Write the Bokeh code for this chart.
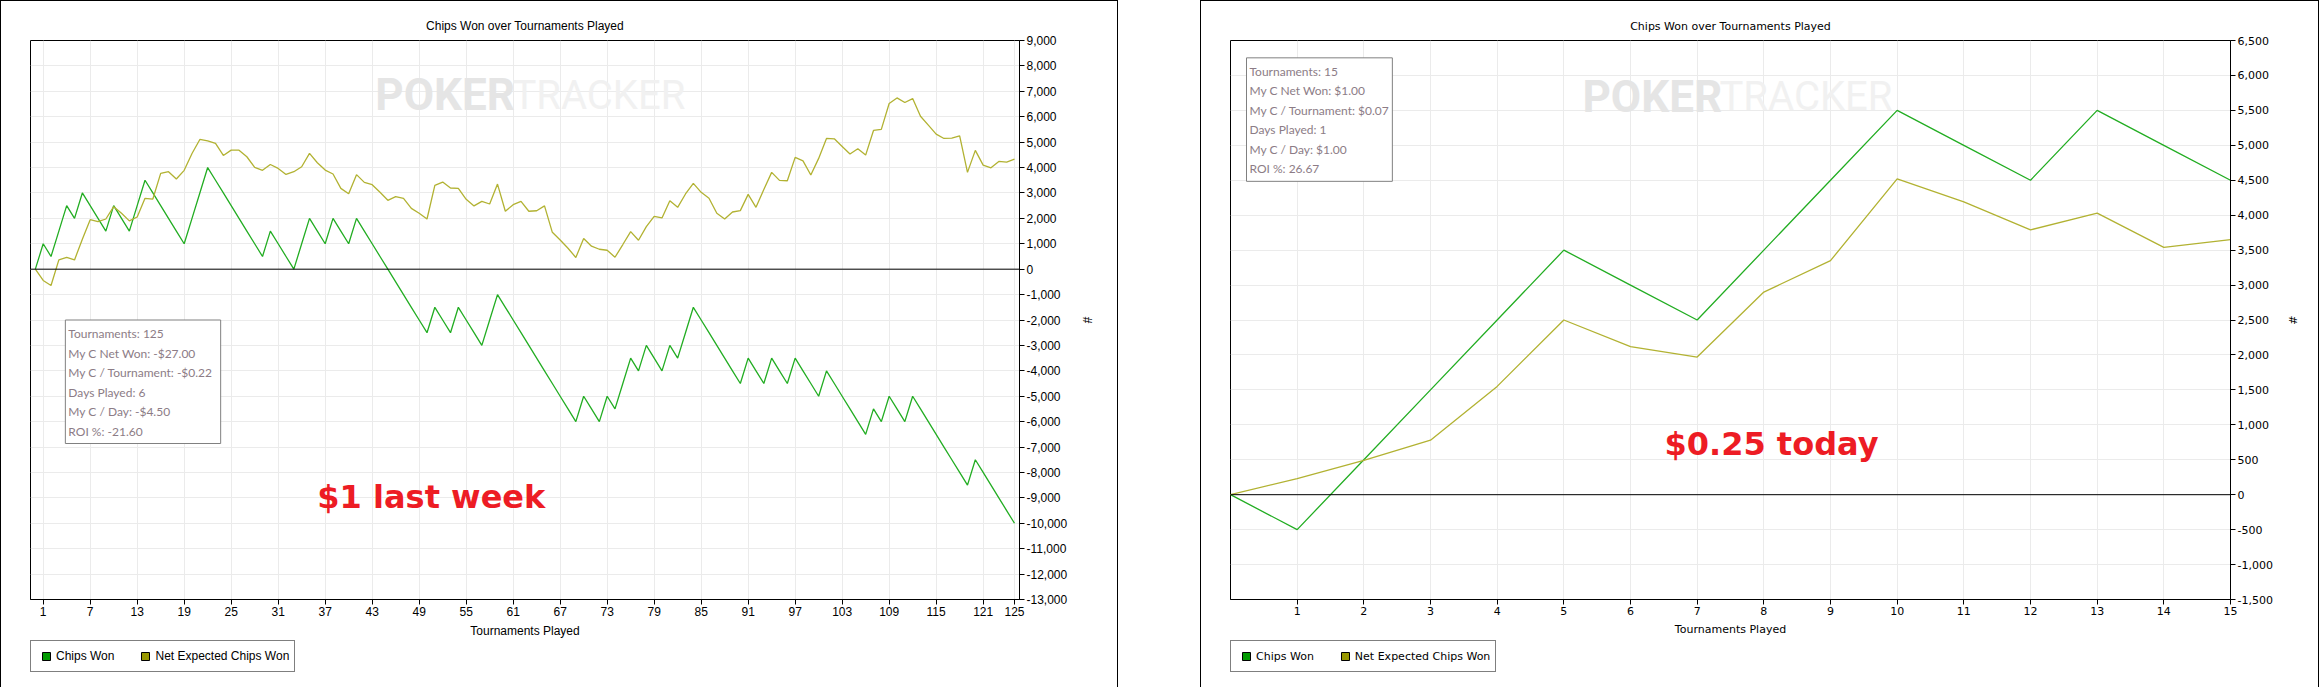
from bokeh.plotting import figure
from bokeh.models import Range1d, FixedTicker, NumeralTickFormatter, Span, Label, Legend, LegendItem
from bokeh.layouts import row, column
from bokeh.embed import file_html
from bokeh.resources import INLINE
from bokeh.core.properties import value
from bokeh.core.property.dataspec import DataSpec

# ---------------- data ----------------
TITLE = "Chips Won over Tournaments Played"
X_LABEL = "Tournaments Played"
Y_LABEL = "#"
SERIES_NAMES = ["Chips Won", "Net Expected Chips Won"]

left_games = list(range(0, 126))
left_chips_won = [
    0, 1000, 500, 1500, 2500, 2000, 3000, 2500, 2000, 1500,
    2500, 2000, 1500, 2500, 3500, 3000, 2500, 2000, 1500, 1000,
    2000, 3000, 4000, 3500, 3000, 2500, 2000, 1500, 1000, 500,
    1500, 1000, 500, 0, 1000, 2000, 1500, 1000, 2000, 1500,
    1000, 2000, 1500, 1000, 500, 0, -500, -1000, -1500, -2000,
    -2500, -1500, -2000, -2500, -1500, -2000, -2500, -3000, -2000, -1000,
    -1500, -2000, -2500, -3000, -3500, -4000, -4500, -5000, -5500, -6000,
    -5000, -5500, -6000, -5000, -5500, -4500, -3500, -4000, -3000, -3500,
    -4000, -3000, -3500, -2500, -1500, -2000, -2500, -3000, -3500, -4000,
    -4500, -3500, -4000, -4500, -3500, -4000, -4500, -3500, -4000, -4500,
    -5000, -4000, -4500, -5000, -5500, -6000, -6500, -5500, -6000, -5000,
    -5500, -6000, -5000, -5500, -6000, -6500, -7000, -7500, -8000, -8500,
    -7500, -8000, -8500, -9000, -9500, -10000,
]
left_net_expected = [
    0, -445, -640, 365, 460, 365, 1180, 1950, 1870, 1975,
    2460, 2200, 1900, 2055, 2790, 2760, 3770, 3835, 3550, 3890,
    4555, 5105, 5050, 4950, 4475, 4685, 4685, 4425, 4005, 3890,
    4120, 3965, 3730, 3835, 4030, 4555, 4190, 3900, 3745, 3180,
    2970, 3720, 3415, 3325, 3025, 2710, 2855, 2790, 2395, 2200,
    1975, 3300, 3430, 3195, 3180, 2750, 2490, 2670, 2565, 3350,
    2280, 2540, 2670, 2280, 2300, 2490, 1450, 1150, 825, 460,
    1205, 905, 785, 745, 470, 970, 1480, 1140, 1675, 2080,
    2015, 2695, 2435, 2960, 3375, 3025, 2790, 2200, 1975, 2250,
    2305, 2945, 2435, 3140, 3810, 3495, 3480, 4400, 4265, 3705,
    4360, 5145, 5130, 4830, 4530, 4740, 4490, 5460, 5500, 6520,
    6740, 6560, 6715, 6020, 5670, 5315, 5145, 5155, 5250, 3810,
    4675, 4095, 3990, 4240, 4215, 4330,
]
left_x_ticks = [1, 7, 13, 19, 25, 31, 37, 43, 49, 55, 61, 67, 73, 79, 85,
                91, 97, 103, 109, 115, 121, 125]
left_y_ticks = [-13000, -12000, -11000, -10000, -9000, -8000, -7000, -6000,
                -5000, -4000, -3000, -2000, -1000, 0, 1000, 2000, 3000, 4000,
                5000, 6000, 7000, 8000, 9000]
left_stats = ["Tournaments: 125", "My C Net Won: -$27.00", "My C / Tournament: -$0.22",
              "Days Played: 6", "My C / Day: -$4.50", "ROI %: -21.60"]
left_note = "$1 last week"

right_games = list(range(0, 16))
right_chips_won = [0, -500, 500, 1500, 2500, 3500, 3000, 2500, 3500, 4500,
                   5500, 5000, 4500, 5500, 5000, 4500]
right_net_expected = [0, 230, 490, 780, 1550, 2500, 2120, 1970, 2900, 3350,
                      4520, 4190, 3790, 4030, 3540, 3650]
right_x_ticks = [1, 2, 3, 4, 5, 6, 7, 8, 9, 10, 11, 12, 13, 14, 15]
right_y_ticks = [-1500, -1000, -500, 0, 500, 1000, 1500, 2000, 2500, 3000,
                 3500, 4000, 4500, 5000, 5500, 6000, 6500]
right_stats = ["Tournaments: 15", "My C Net Won: $1.00", "My C / Tournament: $0.07",
               "Days Played: 1", "My C / Day: $1.00", "ROI %: 26.67"]
right_note = "$0.25 today"

LINE_COLORS = ["#22ad22", "#b2b232"]
LEGEND_COLORS = ["#009900", "#999900"]
PANEL_BORDER = {"box-shadow": "inset 1px 1px 0 0 #000000, inset -1px 0 0 0 #000000"}


def font(cls, prop, fam):
    p = cls.lookup(prop).property
    return value(fam) if isinstance(p, DataSpec) else fam


def make_panel(games, won, expected, xticks, yticks, stats, note, *,
               frame_w, xr, yr, border_left, border_right, font_name, font_size,
               title_offset, stats_xy, stats_pad, note_xy, mark_xy):
    p = figure(frame_width=frame_w, frame_height=559,
               output_backend="svg", toolbar_location=None,
               x_range=Range1d(*xr), y_range=Range1d(*yr), y_axis_location="right",
               min_border_left=border_left, min_border_right=border_right,
               min_border_top=40, min_border_bottom=41,
               background_fill_color="white", border_fill_color=None)
    p.outline_line_color = "black"
    p.outline_line_width = 1

    p.title.text = TITLE
    p.title.align = "center"
    p.title.offset = title_offset
    p.title.standoff = 16
    p.title.text_font = font_name
    p.title.text_font_size = font_size
    p.title.text_font_style = "normal"
    p.title.text_color = "black"

    for ax in (p.xaxis[0], p.yaxis[0]):
        ax.axis_line_color = "black"
        ax.major_tick_line_color = "black"
        ax.major_tick_out = 5
        ax.major_tick_in = 0
        ax.minor_tick_line_color = None
        ax.major_label_text_font = font_name
        ax.major_label_text_font_size = font_size
        ax.major_label_text_color = "black"
        ax.major_label_standoff = 2
        ax.axis_label_text_font = font_name
        ax.axis_label_text_font_size = font_size
        ax.axis_label_text_font_style = "normal"
        ax.axis_label_text_color = "black"
    p.xaxis.ticker = FixedTicker(ticks=xticks)
    p.yaxis.ticker = FixedTicker(ticks=yticks)
    p.yaxis.formatter = NumeralTickFormatter(format="0,0")
    p.xaxis.axis_label = X_LABEL
    p.xaxis.axis_label_standoff = 5
    p.yaxis.axis_label = Y_LABEL
    p.yaxis.axis_label_standoff = 10

    p.xgrid.grid_line_color = "#ebebeb"
    p.ygrid.grid_line_color = "#ebebeb"

    # watermark
    p.add_layout(Label(x=mark_xy[0], y=mark_xy[2], text="POKER", text_align="left",
                       text_baseline="alphabetic", level="underlay",
                       text_font=font(Label, "text_font", "Roboto"), text_font_style="bold",
                       text_font_size="44px", text_color="#e5e5e5"))
    p.add_layout(Label(x=mark_xy[1], y=mark_xy[2], text="TRACKER", text_align="left",
                       text_baseline="alphabetic", level="underlay",
                       text_font=font(Label, "text_font", "Roboto"),
                       text_font_size="40px", text_color="#f1f1f1"))

    p.add_layout(Span(location=0, dimension="width", line_color="black", line_width=1))

    p.line(games, won, line_color=LINE_COLORS[0], line_width=1.3)
    p.line(games, expected, line_color=LINE_COLORS[1], line_width=1.3)

    # stats box
    p.add_layout(Label(x=stats_xy[0], y=stats_xy[1], text="\n".join(stats),
                       text_align="left", text_baseline="top",
                       text_font=font(Label, "text_font", "Lato"), text_font_size="12px",
                       text_color="#8c7c86", text_line_height=1.3,
                       border_line_color="#808080", border_line_width=1,
                       background_fill_color="white", padding=stats_pad))

    # red note
    p.add_layout(Label(x=note_xy[0], y=note_xy[1], text=note, text_align="left",
                       text_baseline="alphabetic",
                       text_font=font(Label, "text_font", "DejaVu Sans"), text_font_style="bold",
                       text_font_size="32px", text_color="#ed1c24"))

    # legend strip under the chart; swatch renderers hold the series' first point,
    # which lies outside this strip's ranges so only the legend swatch shows
    lg = figure(frame_width=frame_w, frame_height=47, output_backend="svg",
                toolbar_location=None, x_axis_location=None, y_axis_location=None,
                x_range=Range1d(1, 2), y_range=Range1d(1, 2),
                min_border_left=border_left, min_border_right=border_right,
                min_border_top=0, min_border_bottom=0,
                background_fill_color=None, border_fill_color=None)
    lg.outline_line_color = None
    lg.xgrid.visible = False
    lg.ygrid.visible = False
    r1 = lg.scatter([games[0]], [won[0]], marker="square", size=8,
                    fill_color=LEGEND_COLORS[0], line_color="black")
    r2 = lg.scatter([games[0]], [expected[0]], marker="square", size=8,
                    fill_color=LEGEND_COLORS[1], line_color="black")
    legend = Legend(items=[LegendItem(label=SERIES_NAMES[0], renderers=[r1]),
                           LegendItem(label=SERIES_NAMES[1], renderers=[r2])],
                    orientation="horizontal", location="top_left", margin=0,
                    padding=5, spacing=21, glyph_width=20, glyph_height=20,
                    label_standoff=0, label_height=20,
                    label_text_font=font_name, label_text_font_size=font_size,
                    label_text_color="black",
                    border_line_color="black", border_line_width=1,
                    background_fill_color="white")
    lg.add_layout(legend, "center")
    return column(p, lg, spacing=0, styles=PANEL_BORDER)


p_left = make_panel(left_games, left_chips_won, left_net_expected, left_x_ticks,
                    left_y_ticks, left_stats, left_note,
                    frame_w=989, xr=(-0.62, 125.64), yr=(-13000, 9000),
                    border_left=30, border_right=99,
                    font_name="Liberation Sans", font_size="12px", title_offset=42,
                    stats_xy=(3.83, -2000), stats_pad=(3, 8, 6, 5),
                    note_xy=(36.0, -8948), mark_xy=(43.4, 60.9, 6836))

p_right = make_panel(right_games, right_chips_won, right_net_expected, right_x_ticks,
                     right_y_ticks, right_stats, right_note,
                     frame_w=1000, xr=(0, 15), yr=(-1500, 6500),
                     border_left=30, border_right=89,
                     font_name="DejaVu Sans", font_size="11px", title_offset=37,
                     stats_xy=(0.24, 6252), stats_pad=(3, 3, 6, 5),
                     note_xy=(6.51, 719), mark_xy=(5.28, 7.335, 5698))

layout = row(p_left, p_right, spacing=82)
open("out.html", "w").write(file_html(layout, INLINE))
